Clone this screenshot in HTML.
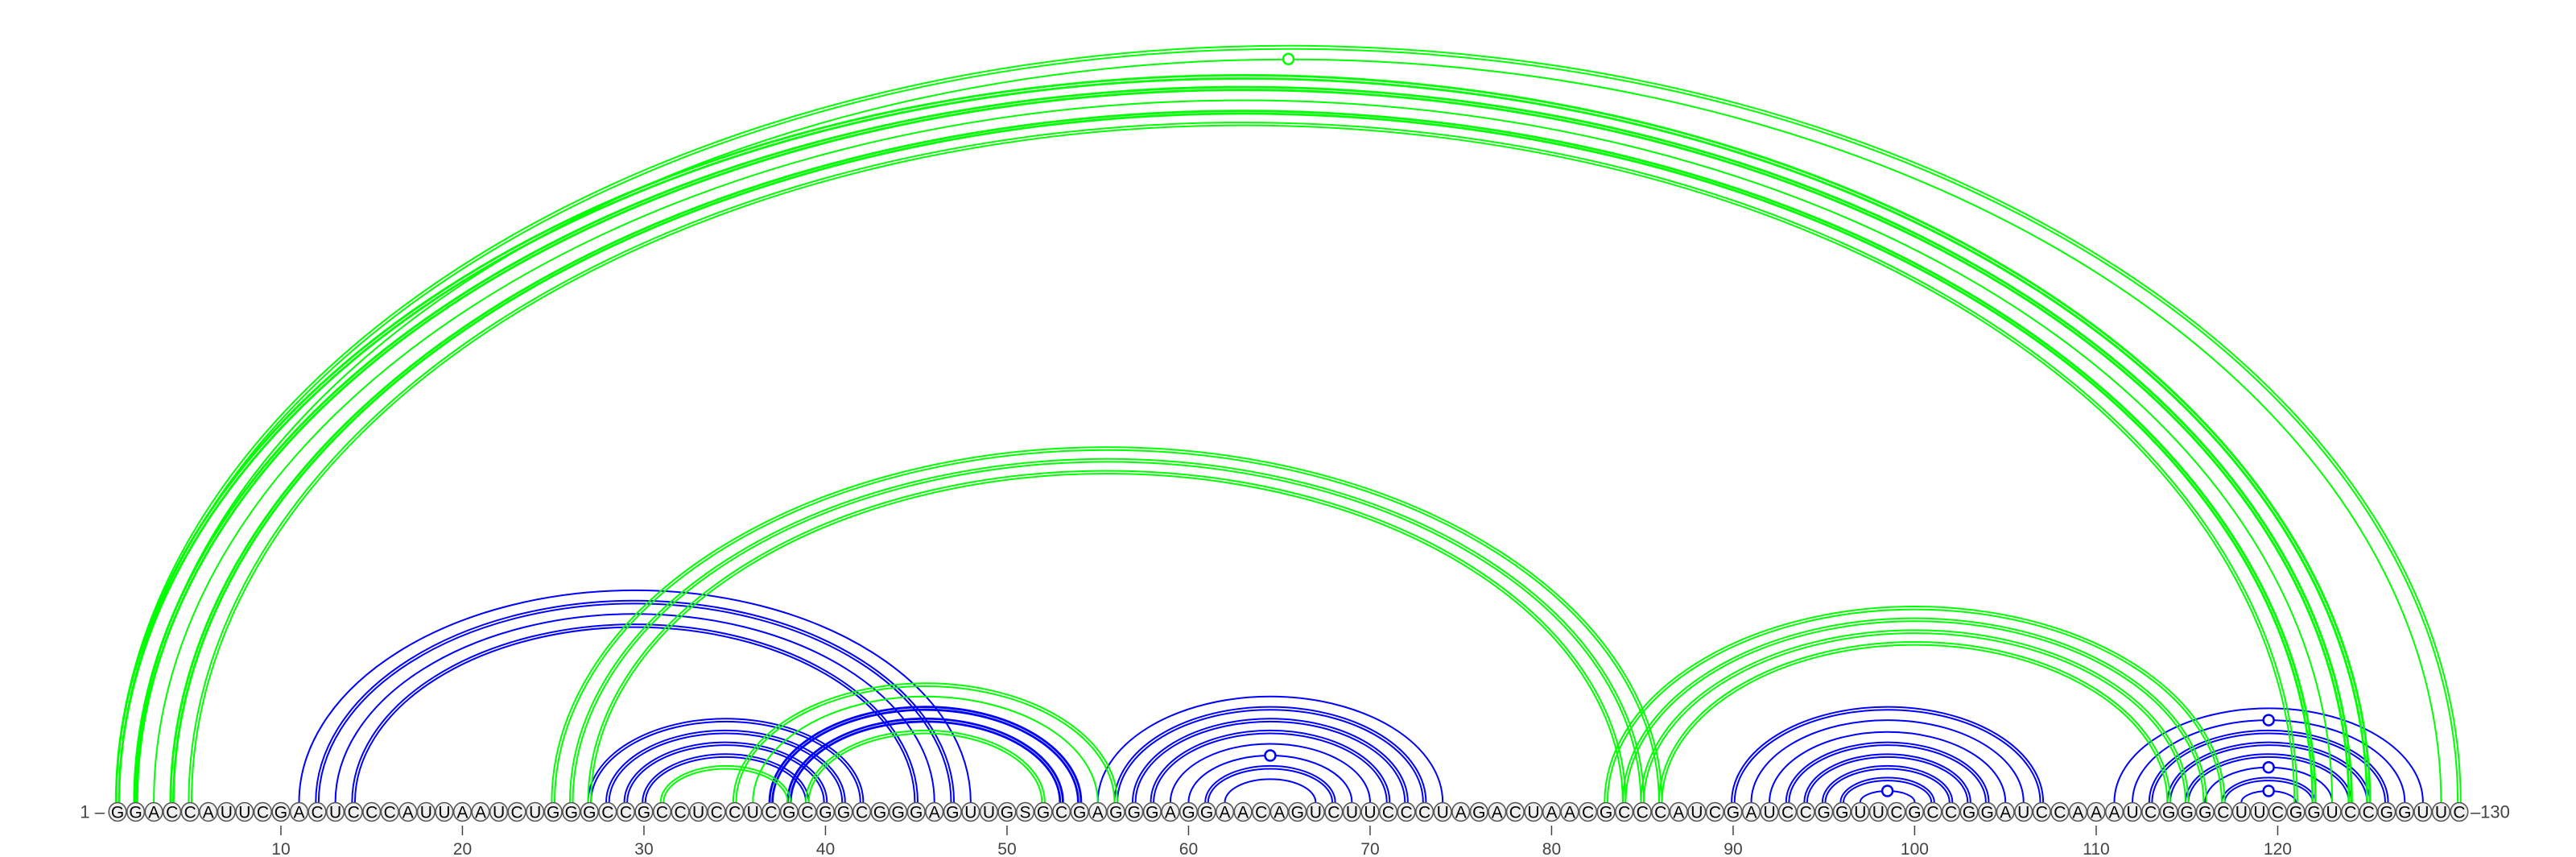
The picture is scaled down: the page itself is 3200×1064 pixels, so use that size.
<!DOCTYPE html>
<html><head><meta charset="utf-8">
<style>
html,body{margin:0;padding:0;background:#fff;}
svg{display:block;}
</style></head>
<body>
<svg id="chart" width="3200" height="1064" viewBox="0 0 3200 1064" xmlns="http://www.w3.org/2000/svg">
<g id="arcs"></g>
<g id="nts"></g>
<g id="axis"></g>
</svg>
<script>
const sequence = "GGACCAUUCGACUCCCAUUAAUCUGGGCCGCCUCCUCGCGGCGGGAGUUGSGCGAGGGAGGAACAGUCUUCCCUAGACUAACGCCCAUCGAUCCGGUUCGCCGGAUCCAAAUCGGGCUUCGGUCCGGUUC";
const tickPositions = [10,20,30,40,50,60,70,80,90,100,110,120];
// blue arcs: [i, j]
const bluePairs = [[11,48],[12,47],[13,46],[14,45],[27,42],[28,41],[29,40],[30,39],[37,54],[38,53],
 [55,74],[56,73],[57,72],[58,71],[59,70],[60,69],[61,68],[62,67],
 [90,107],[91,106],[92,105],[93,104],[94,103],[95,102],[96,101],[97,100],
 [111,128],[112,127],[113,126],[114,125],[115,124],[116,123],[117,122],[118,121]];
// line style: 1 single, 2 double, 3 thick double
const blueStyle = [1,2,1,2,2,2,2,2,3,3, 1,2,2,2,1,1,2,1, 2,1,1,2,2,2,2,1, 1,1,2,2,2,1,2,1];
const blueMarked = [[60,69],[97,100],[112,127],[116,123],[118,121]];
const greenPairs = [[1,130],[2,129],[1,125],[2,124],[3,123],[4,122],[5,121],
 [25,86],[26,85],[27,84],[83,117],[84,116],[85,115],[86,114],
 [31,38],[35,56],[36,55],[39,52]];
const greenStyle = [2,1,3,3,1,3,2, 2,2,2, 2,2,2,2, 2,2,1,2];
const greenMarked = [[2,129]];

const X0 = 146, DX = 22.55, Y0 = 996, YC = 1008;
function xPos(i){ return X0 + (i-1)*DX; }
function rxOf(i,j){ return (j-i)*DX/2; }
function ryOf(i,j){ return 0.65*rxOf(i,j) - 8; }
const NS = "http://www.w3.org/2000/svg";
const arcsG = document.getElementById('arcs');
const ntsG = document.getElementById('nts');
const axisG = document.getElementById('axis');

function arcPath(i,j,off){
  const x1 = xPos(i)-off, x2 = xPos(j)+off, rx = rxOf(i,j)+off, ry = ryOf(i,j)+off;
  return `M ${x1} ${Y0} A ${rx} ${ry} 0 0 1 ${x2} ${Y0}`;
}
function drawArc(p, style, color, name){
  const offs = style===1 ? [0] : [-1.8, 1.8];
  const w = style===3 ? 2.8 : 2;
  offs.forEach(o=>{
    const path = document.createElementNS(NS,'path');
    path.setAttribute('d', arcPath(p[0],p[1],o));
    path.setAttribute('fill','none');
    path.setAttribute('stroke',color);
    path.setAttribute('stroke-width',w);
    
    
    arcsG.appendChild(path);
  });
}
function drawMarker(p, color){
  const c = document.createElementNS(NS,'circle');
  c.setAttribute('cx', (xPos(p[0])+xPos(p[1]))/2);
  c.setAttribute('cy', Y0 - ryOf(p[0],p[1]));
  c.setAttribute('r', 6.5);
  c.setAttribute('fill','#fff');
  c.setAttribute('stroke',color);
  c.setAttribute('stroke-width',2.5);
  
  
  arcsG.appendChild(c);
}
bluePairs.forEach((p,k)=>drawArc(p, blueStyle[k], '#0000ff', 'blue-arc'));
greenPairs.forEach((p,k)=>drawArc(p, greenStyle[k], '#00ff00', 'green-arc'));
blueMarked.forEach(p=>drawMarker(p,'#0000ff'));
greenMarked.forEach(p=>drawMarker(p,'#00ff00'));

for (let i=1;i<=sequence.length;i++){
  const x = xPos(i);
  const e = document.createElementNS(NS,'ellipse');
  e.setAttribute('cx',x); e.setAttribute('cy',YC);
  e.setAttribute('rx',10.8); e.setAttribute('ry',11.5);
  e.setAttribute('fill','#f0f0f0'); e.setAttribute('stroke','#555'); e.setAttribute('stroke-width',1.6);
  
  
  ntsG.appendChild(e);
  const t = document.createElementNS(NS,'text');
  t.setAttribute('x',x); t.setAttribute('y',YC+7.5);
  t.setAttribute('text-anchor','middle');
  t.setAttribute('font-family','"Liberation Sans", sans-serif');
  t.setAttribute('font-size','21');
  t.setAttribute('fill','#000');
  t.textContent = sequence[i-1];
  
  
  ntsG.appendChild(t);
}
tickPositions.forEach(p=>{
  const x = xPos(p);
  const l = document.createElementNS(NS,'line');
  l.setAttribute('x1',x); l.setAttribute('x2',x);
  l.setAttribute('y1',1025); l.setAttribute('y2',1037);
  l.setAttribute('stroke','#444'); l.setAttribute('stroke-width',1.5);
  
  
  axisG.appendChild(l);
  const t = document.createElementNS(NS,'text');
  t.setAttribute('x',x); t.setAttribute('y',1061);
  t.setAttribute('text-anchor','middle');
  t.setAttribute('font-family','"Liberation Sans", sans-serif');
  t.setAttribute('font-size','21');
  t.setAttribute('fill','#444');
  t.textContent = p;
  
  
  axisG.appendChild(t);
});
function label(txt, x, anchor, name){
  const t = document.createElementNS(NS,'text');
  t.setAttribute('x',x); t.setAttribute('y',YC+7.5);
  t.setAttribute('text-anchor',anchor);
  t.setAttribute('font-family','"Liberation Sans", sans-serif');
  t.setAttribute('font-size','22');
  t.setAttribute('fill','#444');
  t.textContent = txt;
  
  
  axisG.appendChild(t);
}
label('1 \u2013', xPos(1)-16, 'end', 'start-label');
label('\u2013' + sequence.length, xPos(sequence.length)+14, 'start', 'end-label');
</script>
</body></html>
